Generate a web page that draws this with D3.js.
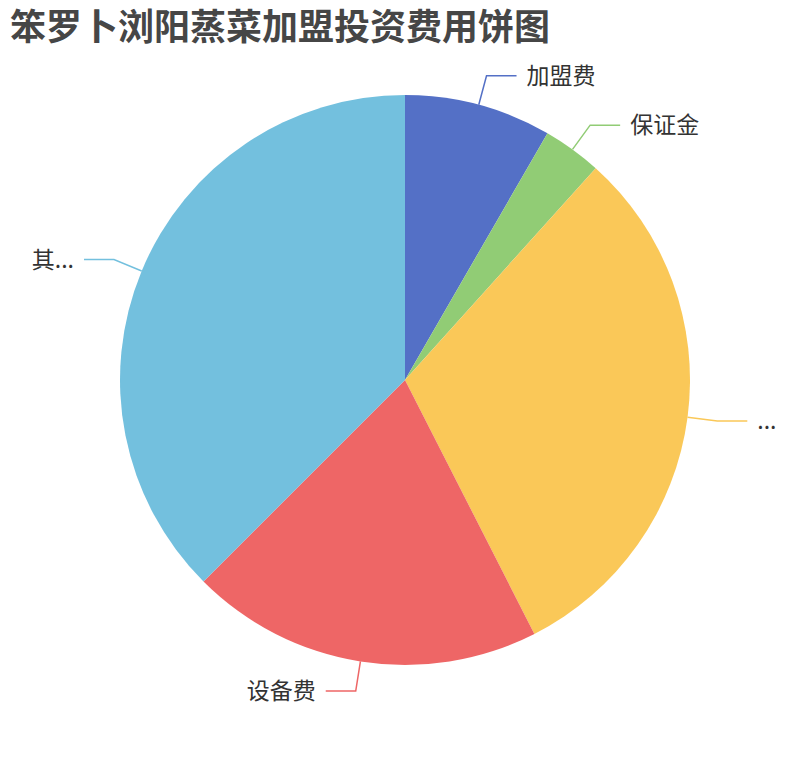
<!DOCTYPE html>
<html>
<head>
<meta charset="utf-8">
<script src="https://cdn.jsdelivr.net/npm/d3@7"></script>
<style>
  body { margin: 0; background: #fff; }
  text { font-family: "Noto Sans CJK SC", "Noto Sans", sans-serif; }
</style>
</head>
<body>
<script>
// pie data (万元), labels as shown in the chart
let categories = ["加盟费", "保证金", "...", "设备费", "其..."];
let values = [5, 2, 18.5, 12, 22.5];
let colors = ["#5470c6", "#91cc75", "#fac858", "#ee6666", "#73c0de"];

let width = 810;
let height = 760;
let cx = 405, cy = 380, radius = 285;

let svg = d3.select("body").append("svg")
  .attr("width", width)
  .attr("height", height);

svg.append("text")
  .attr("x", 10)
  .attr("y", 40)
  .attr("font-size", 36)
  .attr("font-weight", "bold")
  .attr("fill", "#464646")
  .text("笨罗卜浏阳蒸菜加盟投资费用饼图");

let pie = d3.pie().sort(null).value(d => d)(values);
let arc = d3.arc().innerRadius(0).outerRadius(radius);

let g = svg.append("g").attr("transform", `translate(${cx},${cy})`);

g.selectAll("path.slice")
  .data(pie)
  .enter()
  .append("path")
  .attr("class", "slice")
  .attr("d", arc)
  .attr("fill", (d, i) => colors[i]);

// leader lines: from edge out 30px, then 30px horizontal
let len1 = 30, len2 = 30;
pie.forEach((d, i) => {
  let a = (d.startAngle + d.endAngle) / 2;
  let s = Math.sin(a), c = -Math.cos(a);
  let p0 = [radius * s, radius * c];
  let p1 = [(radius + len1) * s, (radius + len1) * c];
  let dir = s >= 0 ? 1 : -1;
  let p2 = [p1[0] + dir * len2, p1[1]];
  g.append("polyline")
    .attr("points", [p0, p1, p2].map(p => p.join(",")).join(" "))
    .attr("fill", "none")
    .attr("stroke", colors[i])
    .attr("stroke-width", 1.5);
  g.append("text")
    .attr("x", p2[0] + dir * 10)
    .attr("y", p2[1])
    .attr("dy", "0.35em")
    .attr("text-anchor", dir > 0 ? "start" : "end")
    .attr("font-size", 23)
    .attr("fill", "#333")
    .text(categories[i]);
});
</script>
</body>
</html>
